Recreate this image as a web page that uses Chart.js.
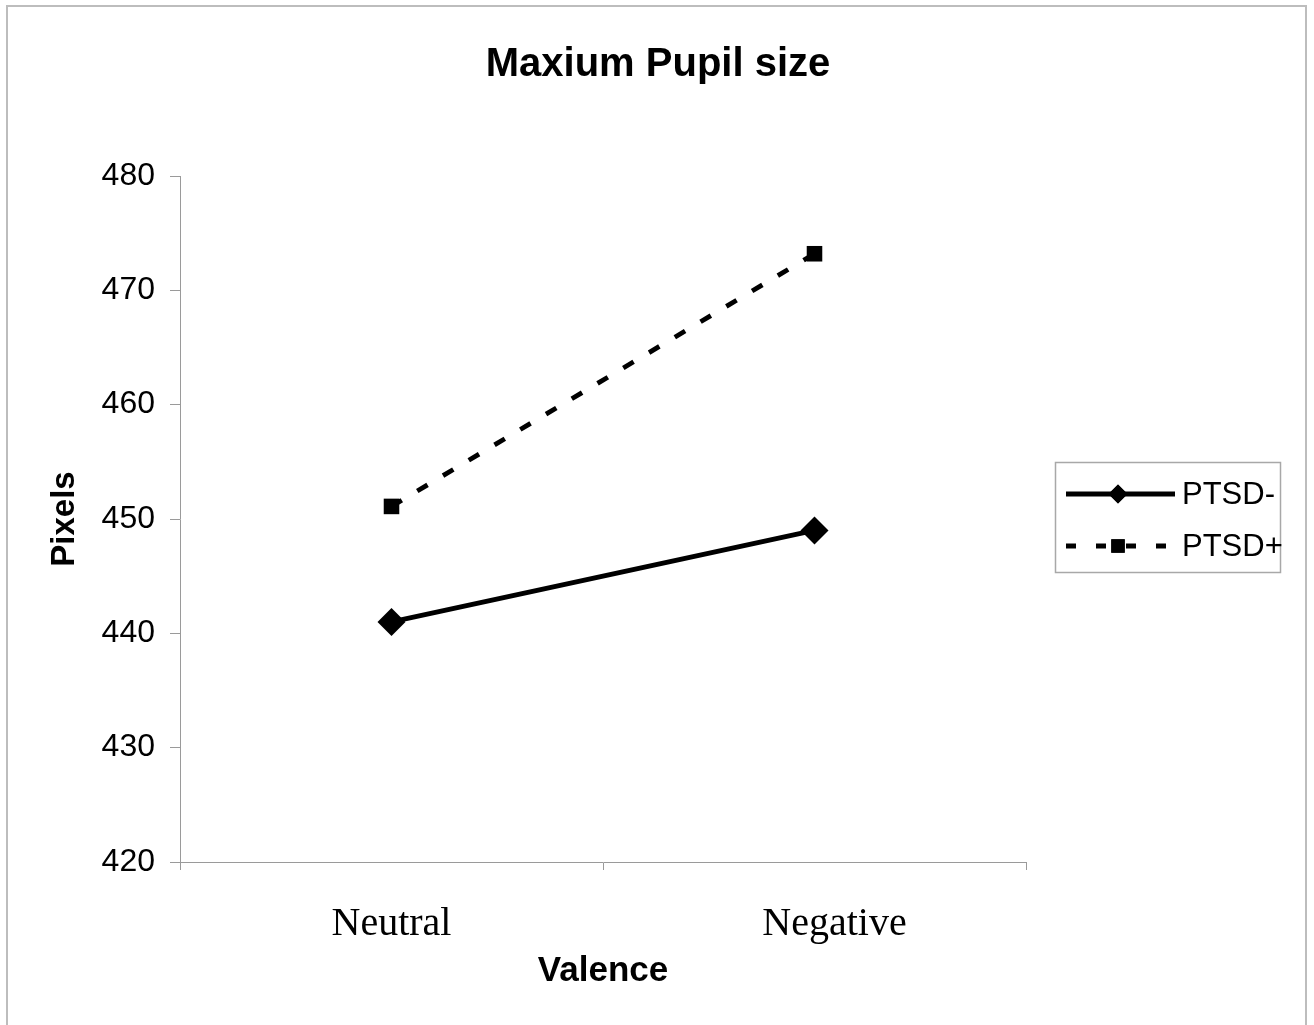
<!DOCTYPE html>
<html>
<head>
<meta charset="utf-8">
<script src="https://cdn.jsdelivr.net/npm/chart.js@4.4.0/dist/chart.umd.min.js"></script>
<style>
  html, body { margin: 0; padding: 0; background: #fff; }
  canvas { display: block; }
</style>
</head>
<body>
<canvas id="c" width="1314" height="1025"></canvas>
<script>
const categories = ["Neutral", "Negative"];
const ptsdMinus = [441.0, 449.0];
const ptsdPlus = [451.1, 473.2];
const seriesNames = ["PTSD-", "PTSD+"];
const yTicks = [420, 430, 440, 450, 460, 470, 480];
const chartTitle = "Maxium Pupil size";
const xTitle = "Valence";
const yTitle = "Pixels";

const SANS = "'Liberation Sans', Arial, sans-serif";
const SERIF = "'Liberation Serif', 'Times New Roman', serif";
const AXIS_GRAY = "#9a9a9a";

const decorPlugin = {
  id: 'decor',
  beforeDraw(chart) {
    const ctx = chart.ctx;
    ctx.save();
    ctx.fillStyle = '#fff';
    ctx.fillRect(0, 0, chart.width, chart.height);
    ctx.strokeStyle = '#bdbdbd';
    ctx.lineWidth = 2;
    ctx.strokeRect(7, 6, 1299, 1030);
    ctx.restore();
  },
  afterDraw(chart) {
    const ctx = chart.ctx;
    ctx.save();
    // title
    ctx.fillStyle = '#000';
    ctx.font = "bold 40px " + SANS;
    ctx.textAlign = 'center';
    ctx.textBaseline = 'middle';
    ctx.fillText(chartTitle, 658, 65);
    // legend
    ctx.strokeStyle = '#a8a8a8';
    ctx.lineWidth = 1.5;
    ctx.strokeRect(1055.5, 462.5, 225, 110);
    const rows = [494, 546];
    chart.data.datasets.forEach((ds, i) => {
      const y = rows[i];
      ctx.save();
      ctx.strokeStyle = ds.borderColor;
      ctx.lineWidth = ds.borderWidth;
      ctx.setLineDash(ds.borderDash ? [10, 20] : []);
      ctx.beginPath();
      if (ds.borderDash) {
        ctx.moveTo(1066, y); ctx.lineTo(1170, y);
      } else {
        ctx.moveTo(1066, y); ctx.lineTo(1175, y);
      }
      ctx.stroke();
      ctx.restore();
      Chart.helpers.drawPoint(ctx, {
        pointStyle: ds.pointStyle, radius: 9.5,
        rotation: 0, borderWidth: 0
      }, 1118, y);
      ctx.fillStyle = '#000';
      ctx.fill();
      ctx.fillStyle = '#000';
      ctx.font = "31px " + SANS;
      ctx.textAlign = 'left';
      ctx.textBaseline = 'middle';
      ctx.fillText(ds.label, 1182, y + 1);
    });
    ctx.restore();
  }
};

new Chart(document.getElementById('c'), {
  type: 'line',
  data: {
    labels: categories,
    datasets: [
      {
        label: seriesNames[0],
        data: ptsdMinus,
        borderColor: '#000',
        backgroundColor: '#000',
        borderWidth: 4.8,
        pointStyle: 'rectRot',
        pointRadius: 14,
        pointBackgroundColor: '#000',
        pointBorderColor: '#000',
        pointBorderWidth: 0,
        tension: 0,
        fill: false
      },
      {
        label: seriesNames[1],
        data: ptsdPlus,
        borderColor: '#000',
        backgroundColor: '#000',
        borderWidth: 4.8,
        borderDash: [12, 18],
        pointStyle: 'rect',
        pointRadius: 11,
        pointBackgroundColor: '#000',
        pointBorderColor: '#000',
        pointBorderWidth: 0,
        tension: 0,
        fill: false
      }
    ]
  },
  options: {
    responsive: false,
    animation: false,
    devicePixelRatio: 1,
    layout: { padding: { left: 0, right: 288, top: 176, bottom: 0 } },
    plugins: {
      legend: { display: false },
      title: { display: false },
      tooltip: { enabled: false }
    },
    scales: {
      x: {
        type: 'category',
        offset: true,
        grid: { offset: true, drawOnChartArea: false, drawTicks: true, tickLength: 8, color: AXIS_GRAY, lineWidth: 1 },
        border: { color: AXIS_GRAY, width: 1 },
        ticks: {
          color: '#000', font: { family: SERIF, size: 40 }, padding: 30,
          callback(value, index) {
            const lab = this.getLabelForValue(value);
            return index === 1 ? '\u2003' + lab : lab;
          }
        },
        title: { display: true, text: xTitle, color: '#000', font: { family: SANS, size: 35, weight: 'bold' }, padding: { top: 0, bottom: 33 } },
        afterFit(scale) { scale.height = 163; }
      },
      y: {
        min: 420,
        max: 480,
        afterBuildTicks(scale) { scale.ticks = yTicks.map(v => ({ value: v })); },
        grid: { drawOnChartArea: false, drawTicks: true, tickLength: 10, color: AXIS_GRAY, lineWidth: 1 },
        border: { color: AXIS_GRAY, width: 1 },
        ticks: { color: '#000', font: { family: SANS, size: 32 }, padding: 15 },
        title: { display: true, text: yTitle, color: '#000', font: { family: SANS, size: 33, weight: 'bold' }, padding: { top: 45, bottom: 0 } },
        afterFit(scale) { scale.width = 180; }
      }
    }
  },
  plugins: [decorPlugin]
});
</script>
</body>
</html>
